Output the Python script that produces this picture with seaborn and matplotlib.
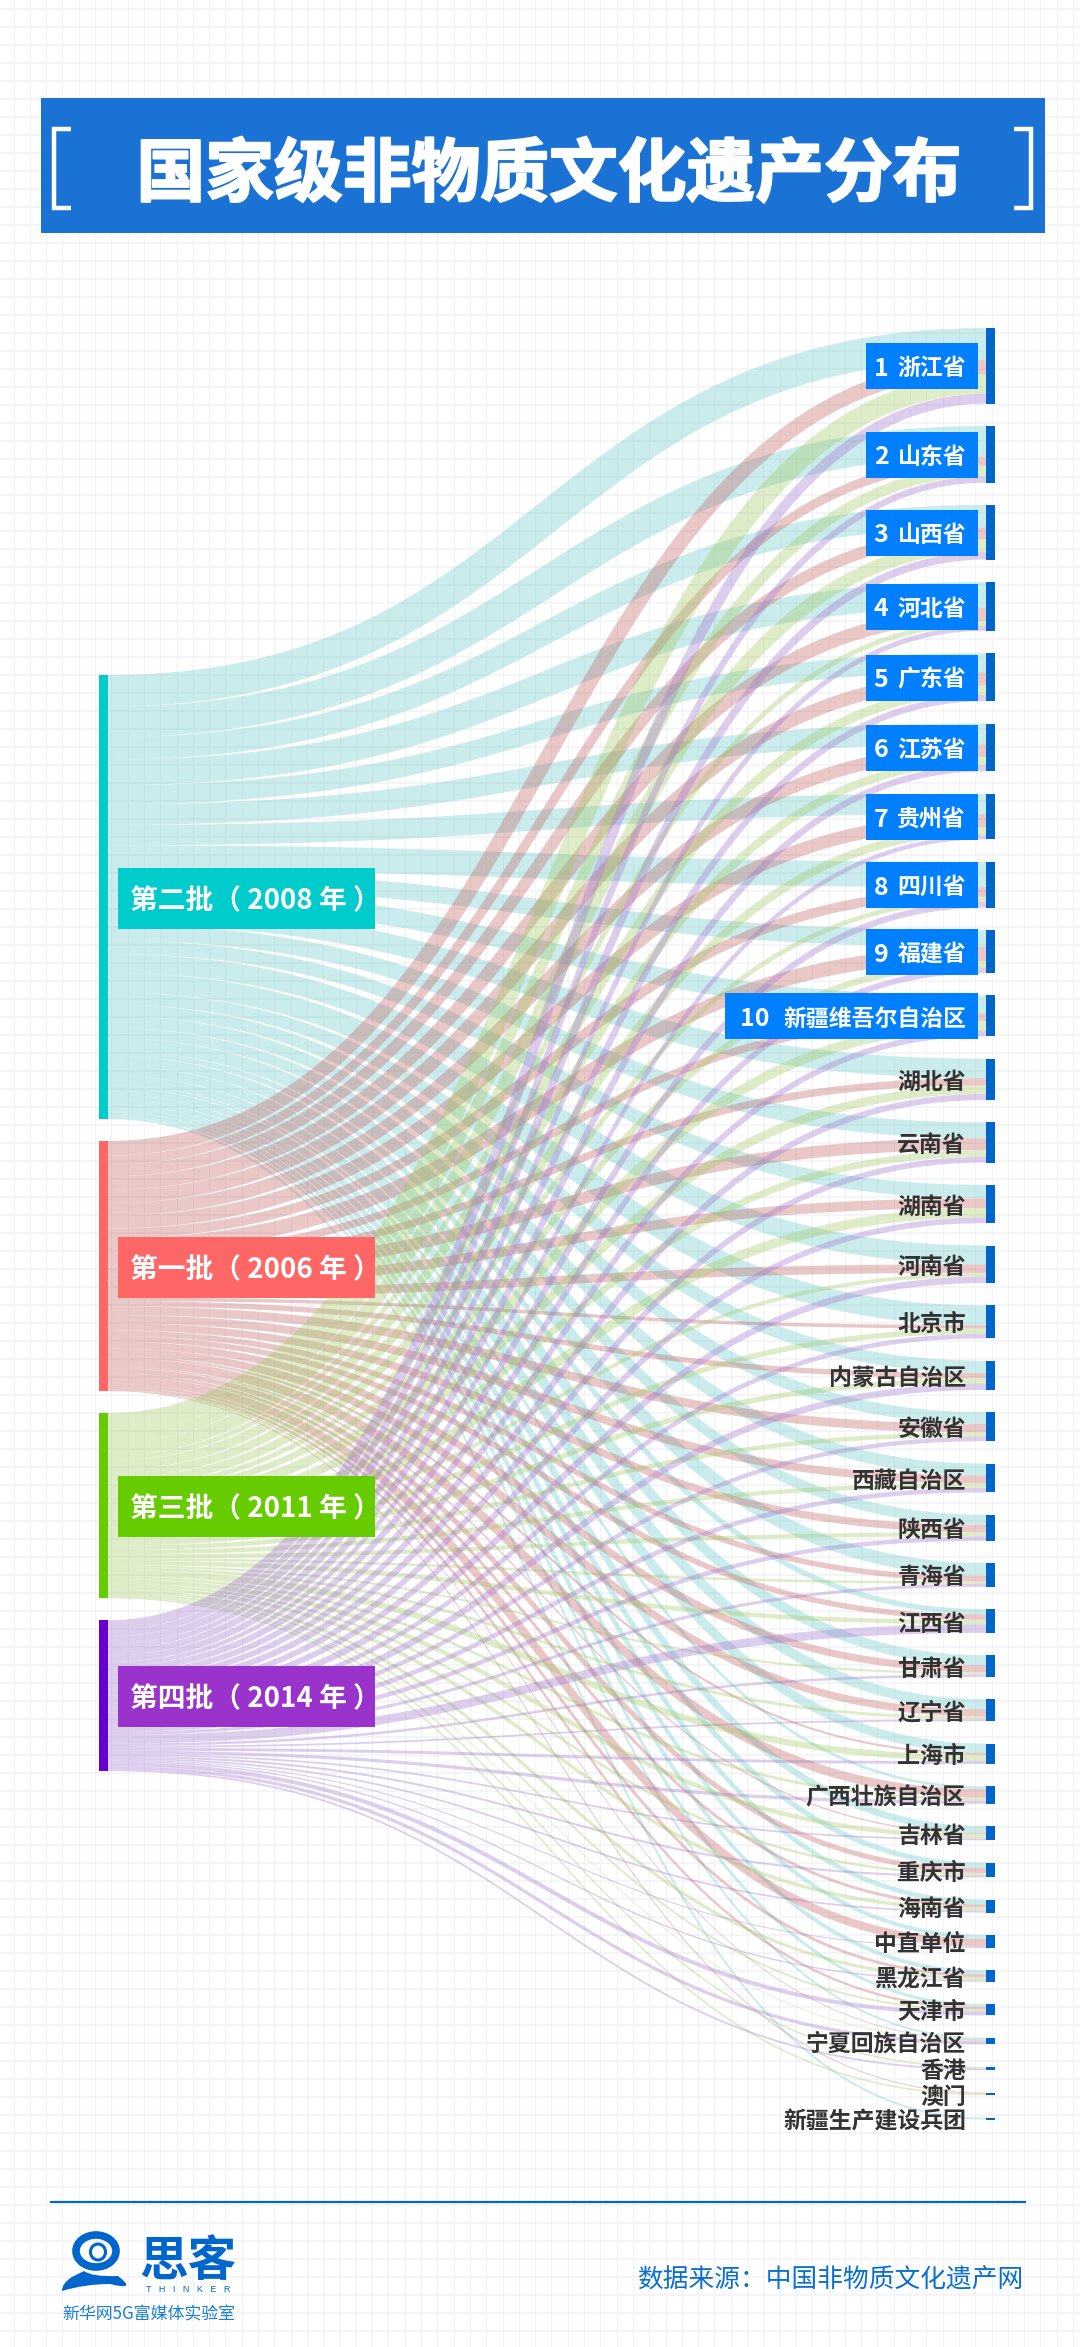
import numpy as np
import seaborn as sns
import matplotlib
matplotlib.use("Agg")
import matplotlib.pyplot as plt
import matplotlib.patheffects as pe
from matplotlib.path import Path
from matplotlib.patches import PathPatch, Rectangle, Ellipse

# ---------- data ----------
batches = ["第二批（ 2008 年 ）", "第一批（ 2006 年 ）", "第三批（ 2011 年 ）", "第四批（ 2014 年 ）"]
regions = ["浙江省", "山东省", "山西省", "河北省", "广东省", "江苏省", "贵州省", "四川省", "福建省",
           "新疆维吾尔自治区", "湖北省", "云南省", "湖南省", "河南省", "北京市", "内蒙古自治区", "安徽省",
           "西藏自治区", "陕西省", "青海省", "江西省", "甘肃省", "辽宁省", "上海市", "广西壮族自治区",
           "吉林省", "重庆市", "海南省", "中直单位", "黑龙江省", "天津市", "宁夏回族自治区", "香港", "澳门",
           "新疆生产建设兵团"]
second = [31.6, 30.6, 22.4, 25.6, 19.0, 20.7, 20.4, 25.3, 16.8, 18.0, 19.4, 15.8, 13.5, 18.7, 19.7, 12.1, 11.5,
          11.8, 10.2, 12.8, 5.2, 9.9, 9.9, 9.2, 2.7, 6.6, 5.2, 4.6, 3.9, 3.9, 3.0, 2.0, 0, 0, 2.0]
first = [14.7, 9.1, 11.6, 13.3, 13.3, 12.6, 12.9, 9.7, 14.3, 7.6, 7.4, 11.8, 9.7, 8.7, 3.4, 5.3, 8.7,
         8.0, 7.4, 5.5, 5.5, 7.1, 7.4, 2.1, 8.7, 1.3, 5.0, 2.9, 8.0, 2.9, 2.4, 0.8, 0, 1.0, 0]
third = [19.3, 10.5, 13.0, 4.9, 9.3, 8.1, 8.1, 4.7, 6.2, 9.6, 8.4, 6.8, 9.3, 3.7, 5.3, 5.3, 4.4,
         4.4, 4.0, 2.4, 4.4, 2.1, 2.8, 6.2, 2.8, 4.4, 2.5, 3.4, 0, 3.1, 1.9, 0.7, 1.6, 1.6, 0]
fourth = [10.0, 6.4, 7.5, 5.0, 6.4, 6.4, 4.3, 6.1, 5.7, 5.7, 6.1, 5.7, 5.7, 6.4, 4.6, 6.4, 4.3,
          4.6, 4.3, 3.0, 8.6, 2.5, 1.8, 2.9, 3.2, 1.8, 2.1, 1.8, 1.1, 1.4, 4.0, 3.2, 1.8, 0, 0]

title = "国家级非物质文化遗产分布"
source_note = "数据来源：中国非物质文化遗产网"
lab_note = "新华网5G富媒体实验室"

node_colors = ["#00CCCC", "#FF6666", "#66CC00", "#6600CC"]
box_colors = ["#00CCCC", "#FF6666", "#66CC00", "#9933CC"]
link_colors = ["#6AC9C9", "#C36262", "#A1C962", "#A173CE"]

# ---------- theme ----------
sns.set_theme(style="whitegrid", rc={"grid.color": "#f2f3f6", "grid.linewidth": 0.9,
                                     "axes.edgecolor": "white", "figure.facecolor": "white",
                                     "axes.facecolor": "white"})
FONT = ["Noto Sans CJK SC", "DejaVu Sans"]
plt.rcParams["font.family"] = FONT
link_palette = sns.color_palette(link_colors)

W, H = 1080, 2347
fig = plt.figure(figsize=(W / 100, H / 100), dpi=100)
ax = fig.add_axes([0, 0, 1, 1])
ax.set_xlim(0, W)
ax.set_ylim(H, 0)
ax.set_xticks(np.arange(13.5, W, 16.3))
ax.set_yticks(np.arange(9, H, 18))
ax.tick_params(length=0, labelbottom=False, labelleft=False)
ax.xaxis.grid(True, color="#f2f3f6", linewidth=0.8)
ax.yaxis.grid(True, color="#f3f4f6", linewidth=1.3)
ax.set_axisbelow(True)
for s in ax.spines.values():
    s.set_visible(False)

# ---------- sankey layout ----------
flows = np.array([second, first, third, fourth], dtype=float)
batch_tot = flows.sum(axis=1)
region_tot = flows.sum(axis=0)
X0, X1 = 108, 986
NW = 9
LEFT_TOP, RIGHT_TOP = 675, 328
LEFT_GAP, RIGHT_GAP = 22, 22.4

left_y = LEFT_TOP + np.concatenate([[0], np.cumsum(batch_tot[:-1] + LEFT_GAP)])
right_y = RIGHT_TOP + np.concatenate([[0], np.cumsum(region_tot[:-1] + RIGHT_GAP)])

# links: each one a constant-width stroke along a horizontal S-curve, drawn by seaborn
xm = (X0 + X1) / 2
t = np.linspace(0, 1, 80)
u = 1 - t
for b in range(len(batches)):
    yl = left_y[b]
    for r in range(len(regions)):
        v = flows[b, r]
        if v <= 0:
            continue
        yr = right_y[r] + flows[:b, r].sum()
        y_a, y_b = yl + v / 2, yr + v / 2
        bx = u**3 * X0 + 3 * u**2 * t * xm + 3 * u * t**2 * xm + t**3 * X1
        by = (u**3 + 3 * u**2 * t) * y_a + (3 * u * t**2 + t**3) * y_b
        sns.lineplot(x=bx, y=by, ax=ax, sort=False, estimator=None, color=link_palette[b],
                     linewidth=v * 0.72, alpha=0.35, solid_capstyle="butt", zorder=2, legend=False)
        yl += v
ax.set_xlim(0, W)
ax.set_ylim(H, 0)
ax.set_xlabel("")
ax.set_ylabel("")

# nodes
ax.bar(np.full(4, X0 - NW / 2), batch_tot, bottom=left_y, width=NW, color=node_colors, zorder=3, linewidth=0)
ax.bar(np.full(len(regions), X1 + NW / 2), region_tot, bottom=right_y, width=NW, color="#0066CC", zorder=3,
       linewidth=0)

# left labels
for b, name in enumerate(batches):
    cy = left_y[b] + batch_tot[b] / 2 + 1
    ax.add_patch(Rectangle((118, cy - 30.5), 257, 61, facecolor=box_colors[b], edgecolor="none", zorder=4))
    ax.text(130, cy, name, color="white", fontsize=20, fontweight="bold", ha="left", va="center_baseline",
            zorder=5)

# right labels
for r, name in enumerate(regions):
    cy = right_y[r] + region_tot[r] / 2 + 0.5
    if r < 10:
        left = 725 if r == 9 else 866
        ax.add_patch(Rectangle((left, cy - 23), 978 - left, 46, facecolor="#0080FF", edgecolor="none", zorder=4))
        ax.text(755 if r == 9 else 881, cy, str(r + 1), color="white", fontsize=18, fontweight="bold",
                ha="center", va="center_baseline", zorder=5)
        ax.text(966, cy, name, color="white", fontsize=16.5, fontweight="bold", ha="right",
                va="center_baseline", zorder=5)
    else:
        ax.text(966, cy, name, color="#333333", fontsize=16.5, fontweight="bold", ha="right",
                va="center_baseline", zorder=5)

# title banner
ax.add_patch(Rectangle((41, 98), 1004, 135, facecolor="#1A73D4", edgecolor="none", zorder=4))
ax.text(549, 168, title, color="white", fontsize=49.5, fontweight="bold", ha="center", va="center_baseline",
        zorder=5, path_effects=[pe.withStroke(linewidth=1.5, foreground="white")])
ax.plot([71, 54, 54, 71], [129, 129, 208, 208], color="white", lw=3.2, zorder=5, solid_joinstyle="miter",
        solid_capstyle="butt")
ax.plot([1014, 1031, 1031, 1014], [129, 129, 208, 208], color="white", lw=3.2, zorder=5,
        solid_joinstyle="miter", solid_capstyle="butt")

# footer
ax.plot([50, 1026], [2202, 2202], color="#0066CC", lw=1.6, zorder=3, solid_capstyle="butt")
ax.text(1023, 2278, source_note, color="#0A6FD0", fontsize=18.5, ha="right", va="center_baseline", zorder=5)
ax.text(149, 2312, lab_note, color="#1A7FD6", fontsize=12.2, ha="center", va="center_baseline", zorder=5)

# logo
ax.add_patch(Ellipse((96, 2251), 40, 32, facecolor="none", edgecolor="#0066CC", lw=5.5, zorder=5))
ax.add_patch(Ellipse((98, 2252), 15, 16, facecolor="none", edgecolor="#0066CC", lw=2.2, zorder=5))
sw = [(62, 2291), (62, 2283), (72, 2277), (84, 2271), (92, 2277), (118, 2276), (138, 2291), (110, 2284), (85, 2284),
      (62, 2291)]
swc = [Path.MOVETO, Path.CURVE3, Path.CURVE3, Path.LINETO, Path.CURVE3, Path.CURVE3, Path.CURVE3, Path.CURVE3,
       Path.CURVE3, Path.CLOSEPOLY]
ax.add_patch(PathPatch(Path(sw, swc), facecolor="#0066CC", edgecolor="none", zorder=5))
ax.text(188, 2256, "思客", color="#0066CC", fontsize=35, fontweight="bold", style="italic", ha="center",
        va="center_baseline", zorder=5)
ax.text(188, 2289, "T   H   I   N   K   E   R", color="#0066CC", fontsize=6.5, ha="center",
        va="center_baseline", zorder=5, family=["Liberation Sans", "DejaVu Sans"])

fig.savefig("out.png", dpi=100)
